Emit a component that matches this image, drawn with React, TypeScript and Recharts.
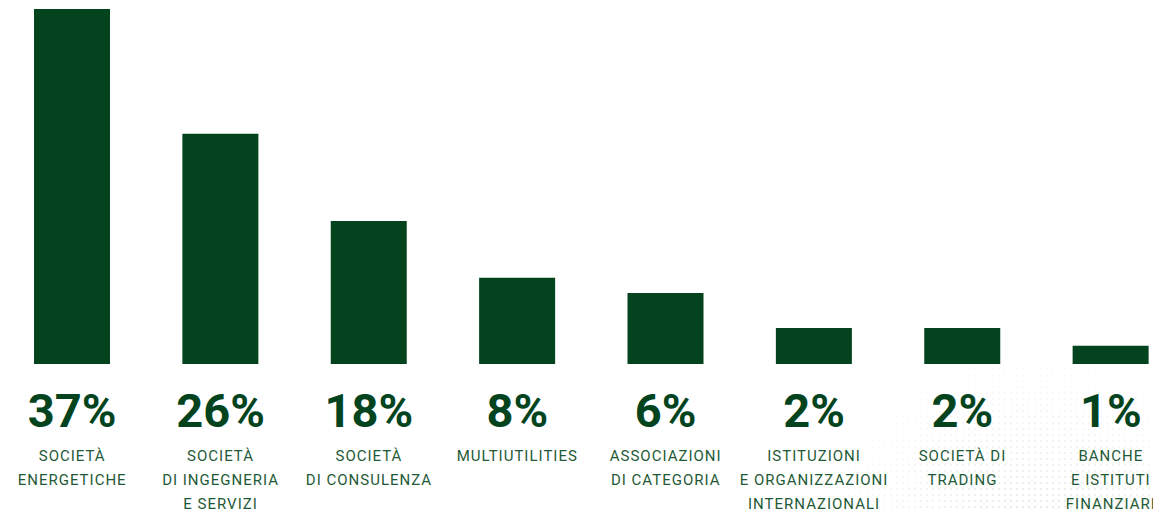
import React from 'react';
import { BarChart, Bar, XAxis, YAxis } from 'recharts';

// category labels, split the way they are printed under each bar
const categoryLines: string[][] = [
  ['SOCIETÀ', 'ENERGETICHE'],
  ['SOCIETÀ', 'DI INGEGNERIA', 'E SERVIZI'],
  ['SOCIETÀ', 'DI CONSULENZA'],
  ['MULTIUTILITIES'],
  ['ASSOCIAZIONI', 'DI CATEGORIA'],
  ['ISTITUZIONI', 'E ORGANIZZAZIONI', 'INTERNAZIONALI'],
  ['SOCIETÀ DI', 'TRADING'],
  ['BANCHE', 'E ISTITUTI', 'FINANZIARI'],
];

// printed shares
const shareLabels = ['37%', '26%', '18%', '8%', '6%', '2%', '2%', '1%'];

// bar heights as drawn (not proportional to the printed shares), 37% bar = 37
const barHeights = [37, 24.0, 14.9, 9.0, 7.4, 3.75, 3.75, 1.9];

const data = categoryLines.map((lines, i) => ({
  name: lines.join(' '),
  value: barHeights[i],
  share: shareLabels[i],
  lines,
}));

const BAR = '#03441f';
const TEXT = '#1f5a37';

const Tick = (props: any) => {
  const { x, y, index } = props;
  const row = data[index];
  if (!row) return null;
  return (
    <g transform={`translate(${x},${y})`}>
      <text
        x={0}
        y={63}
        textAnchor="middle"
        fill={BAR}
        fontFamily="Roboto, sans-serif"
        fontWeight={700}
        fontSize={47}
      >
        {row.share}
      </text>
      {row.lines.map((line, j) => (
        <text
          key={j}
          x={0}
          y={97 + j * 24}
          textAnchor="middle"
          fill={TEXT}
          fontFamily="Roboto, sans-serif"
          fontSize={15}
          letterSpacing={1}
        >
          {line}
        </text>
      ))}
    </g>
  );
};

// faint dotted backdrop in the lower right corner
const Dots = () => (
  <svg width={1153} height={510} style={{ position: 'absolute', left: 0, top: 0 }}>
    <defs>
      <pattern id="dots" width="6" height="6" patternUnits="userSpaceOnUse">
        <circle cx="3" cy="3" r="1" fill="#b9bdb9" />
      </pattern>
      <radialGradient id="fade" cx="1030" cy="560" r="220" gradientUnits="userSpaceOnUse">
        <stop offset="0%" stopColor="#fff" stopOpacity={0.9} />
        <stop offset="100%" stopColor="#fff" stopOpacity={0} />
      </radialGradient>
      <mask id="fadeMask">
        <rect x="0" y="0" width="1153" height="510" fill="url(#fade)" />
      </mask>
    </defs>
    <rect x="0" y="0" width="1153" height="510" fill="url(#dots)" mask="url(#fadeMask)" opacity={0.6} />
  </svg>
);

export default function App() {
  return (
    <div
      style={{
        position: 'absolute',
        left: 0,
        top: 0,
        width: 1153,
        height: 510,
        overflow: 'hidden',
        background: '#fff',
      }}
    >
      <Dots />
      <div style={{ position: 'absolute', left: -2, top: 0 }}>
        <BarChart
          width={1187}
          height={510}
          data={data}
          margin={{ top: 9, right: 0, bottom: 0, left: 0 }}
          barCategoryGap={0}
        >
          <YAxis hide domain={[0, 37]} />
          <XAxis
            dataKey="name"
            axisLine={false}
            tickLine={false}
            tickSize={0}
            tickMargin={0}
            height={146}
            interval={0}
            tick={<Tick />}
          />
          <Bar dataKey="value" fill={BAR} barSize={76} isAnimationActive={false} />
        </BarChart>
      </div>
    </div>
  );
}
